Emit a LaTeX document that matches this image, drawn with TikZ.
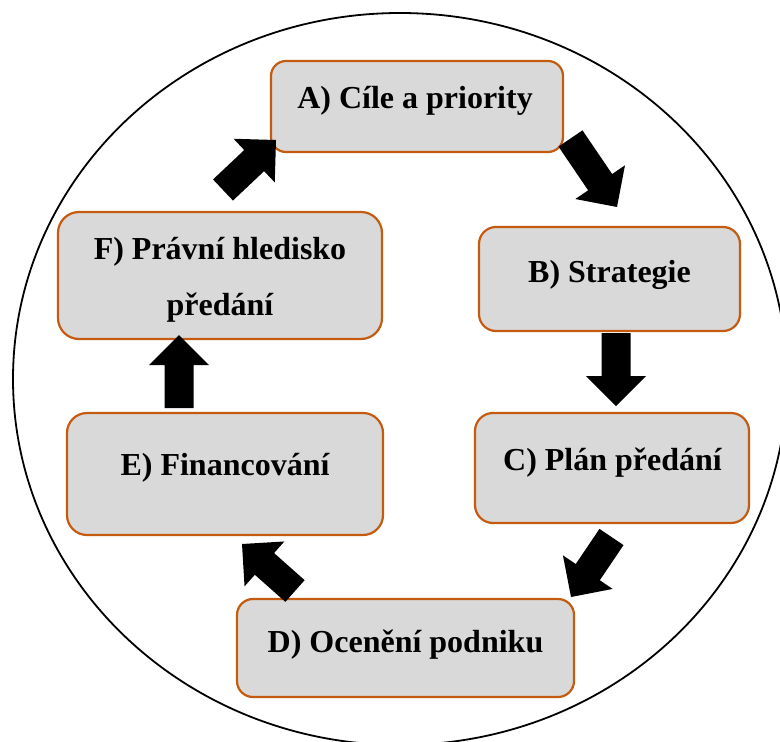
\documentclass[tikz,border=0pt]{standalone}
\usepackage{fontspec}
\setmainfont{Liberation Serif}
\usetikzlibrary{calc}
\definecolor{boxfill}{HTML}{D9D9D9}
\definecolor{boxline}{HTML}{C55A11}

% thick block arrow from (<name>-t) to (<name>-h)
\newcommand{\blockarrow}[1]{%
  \coordinate (#1-b) at ($(#1-h)!30pt!(#1-t)$);
  \fill[black]
    ($(#1-t)!14.5pt!90:(#1-h)$) --
    ($(#1-b)!14.5pt!-90:(#1-t)$) --
    ($(#1-b)!30pt!-90:(#1-t)$) --
    (#1-h) --
    ($(#1-b)!30pt!90:(#1-t)$) --
    ($(#1-b)!14.5pt!90:(#1-t)$) --
    ($(#1-t)!14.5pt!-90:(#1-h)$) -- cycle;
}

\tikzset{
  box/.style={draw=boxline, fill=boxfill, line width=2.2pt, rounded corners=#1, inner sep=0pt},
  lbl/.style={anchor=base, inner sep=0pt, font=\fontsize{32}{38}\selectfont\bfseries},
}

\begin{document}
\begin{tikzpicture}[x=1pt, y=-1pt]
  \clip (0,0) rectangle (780,742);
  \fill[white] (0,0) rectangle (780,742);

  % surrounding ellipse
  \draw[line width=1.8pt] (400,379) ellipse [x radius=387, y radius=366];

  % process steps
  \node[box=15pt, minimum width=292pt, minimum height=91pt]  (A) at (417,106.5) {};
  \node[box=17pt, minimum width=261pt, minimum height=104pt] (B) at (609.5,279) {};
  \node[box=18pt, minimum width=274pt, minimum height=110pt] (C) at (612,468) {};
  \node[box=16pt, minimum width=337pt, minimum height=98pt]  (D) at (405.5,648) {};
  \node[box=20pt, minimum width=316pt, minimum height=122pt] (E) at (225,474) {};
  \node[box=21pt, minimum width=324pt, minimum height=127pt] (F) at (220,275.5) {};

  \node[lbl] (A-text) at (415,108) {A) Cíle a priority};
  \node[lbl] (B-text) at (609.5,282) {B) Strategie};
  \node[lbl] (C-text) at (612.5,470) {C) Plán předání};
  \node[lbl] (D-text) at (405.5,652) {D) Ocenění podniku};
  \node[lbl] (E-text) at (225,475) {E) Financování};
  \node[lbl] (F-text1) at (220,259) {F) Právní hledisko};
  \node[lbl] (F-text2) at (220,315) {předání};

  % connecting arrows
  \coordinate (ab-t) at (570.5,138.5); \coordinate (ab-h) at (617,207);
  \coordinate (bc-t) at (616,333);     \coordinate (bc-h) at (616,406);
  \coordinate (cd-t) at (611.5,537);   \coordinate (cd-h) at (571,597);
  \coordinate (de-t) at (295,591);     \coordinate (de-h) at (242,544);
  \coordinate (ef-t) at (179,408);     \coordinate (ef-h) at (179,335);
  \coordinate (fa-t) at (223,190);     \coordinate (fa-h) at (276,140);
  \blockarrow{ab}
  \blockarrow{bc}
  \blockarrow{cd}
  \blockarrow{de}
  \blockarrow{ef}
  \blockarrow{fa}
\end{tikzpicture}
\end{document}
